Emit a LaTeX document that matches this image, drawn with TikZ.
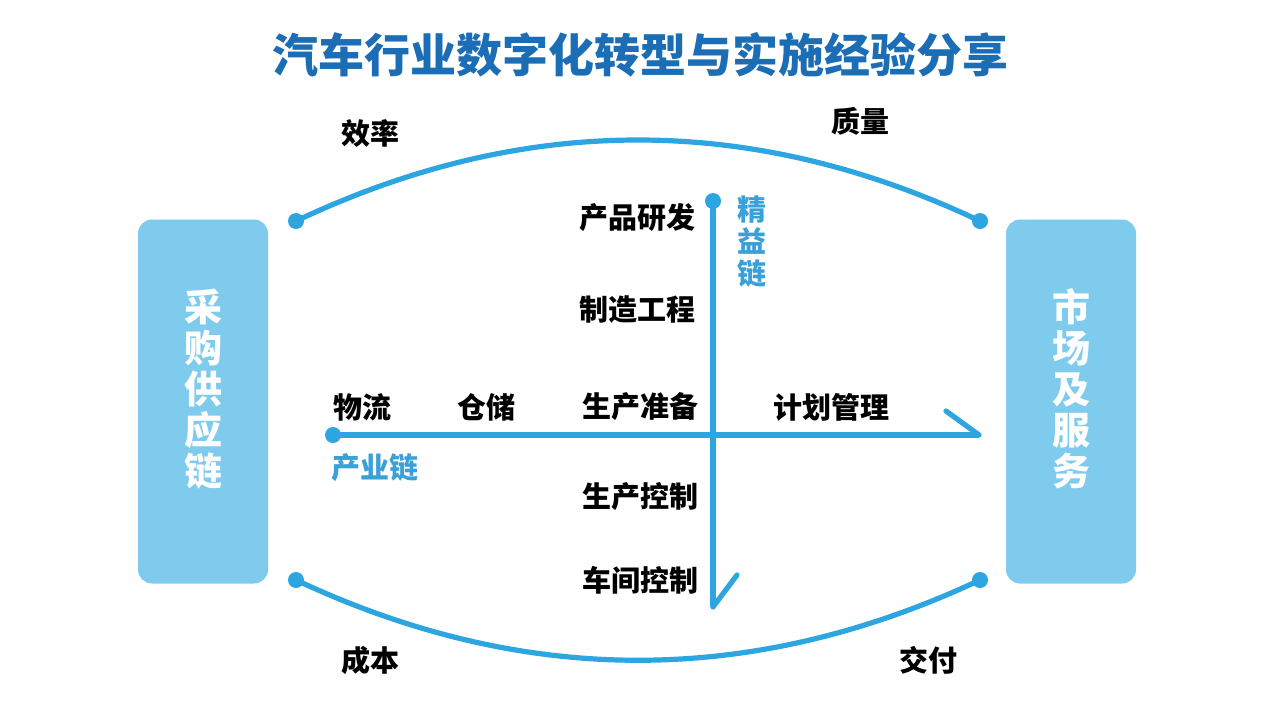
\documentclass[tikz,border=0pt]{standalone}
\usepackage{fontspec}
\setmainfont{Noto Sans CJK SC}
\definecolor{lineblue}{HTML}{2CA5E0}
\definecolor{boxblue}{HTML}{7FCBEE}
\definecolor{titleblue}{HTML}{1B6DB5}
\definecolor{chainblue}{HTML}{3AA0D8}
\begin{document}
\begin{tikzpicture}[x=0.5pt,y=-0.5pt,
  link/.style={draw=lineblue,line width=2.6pt,line cap=round},
  dot/.style={circle,fill=lineblue,inner sep=0pt,minimum size=8pt},
  sidebox/.style={rectangle,rounded corners=7pt,fill=boxblue,minimum width=65pt,minimum height=182pt,inner sep=0pt},
  boxtext/.style={text=white,font=\bfseries\fontsize{19pt}{20.5pt}\selectfont,align=center},
  lbl/.style={text=black,font=\bfseries\fontsize{14.5pt}{16pt}\selectfont,inner sep=0pt},
  chain/.style={text=chainblue,font=\bfseries\fontsize{14.5pt}{16pt}\selectfont,inner sep=0pt,align=center}]
\useasboundingbox (0,0) rectangle (1280,720);
\fill[white] (0,0) rectangle (1280,720);
% title
\node[text=titleblue,font=\bfseries\fontsize{23pt}{24pt}\selectfont] (title) at (640,55) {汽车行业数字化转型与实施经验分享};
% side boxes
\node[sidebox] (left) at (203,401.5) {};
\node[boxtext] (lefttxt) at (203,389) {采\\购\\供\\应\\链};
\node[sidebox] (right) at (1071,401.5) {};
\node[boxtext] (righttxt) at (1071,389) {市\\场\\及\\服\\务};
% arc dots
\node[dot] (tl) at (296,221) {};
\node[dot] (tr) at (980,221) {};
\node[dot] (bl) at (296,580) {};
\node[dot] (br) at (980,580) {};
\draw[link] (tl.center) .. controls (524,113) and (752,113) .. (tr.center);
\draw[link] (bl.center) .. controls (524,687) and (752,687) .. (br.center);
% chains
\node[dot] (hstart) at (333,435) {};
\coordinate (hend) at (979,435);
\coordinate (hbarb) at (946,411);
\draw[link,line cap=butt] (hstart.center) -- (hend);
\draw[link] (hbarb) -- (hend);
\node[dot] (vstart) at (713,201) {};
\coordinate (vend) at (713,607);
\coordinate (vbarb) at (737,575);
\draw[link,line cap=butt] (vstart.center) -- (vend);
\draw[link] (vbarb) -- (vend);
% corner labels
\node[lbl] (eff) at (370,133) {效率};
\node[lbl] (qual) at (860,121) {质量};
\node[lbl] (cost) at (370,660) {成本};
\node[lbl] (deliv) at (928,660) {交付};
% vertical chain labels
\node[lbl] (l1) at (637,218) {产品研发};
\node[lbl] (l2) at (637,310) {制造工程};
\node[lbl] (l3) at (640,407) {生产准备};
\node[lbl] (l4) at (640,497) {生产控制};
\node[lbl] (l5) at (640,580) {车间控制};
% horizontal chain labels
\node[lbl] (h1) at (362,407) {物流};
\node[lbl] (h2) at (486,407) {仓储};
\node[lbl] (h3) at (831,407) {计划管理};
% chain names
\node[chain] (cy) at (375,468) {产业链};
\node[chain] (jy) at (752,242) {精\\益\\链};
\end{tikzpicture}
\end{document}
